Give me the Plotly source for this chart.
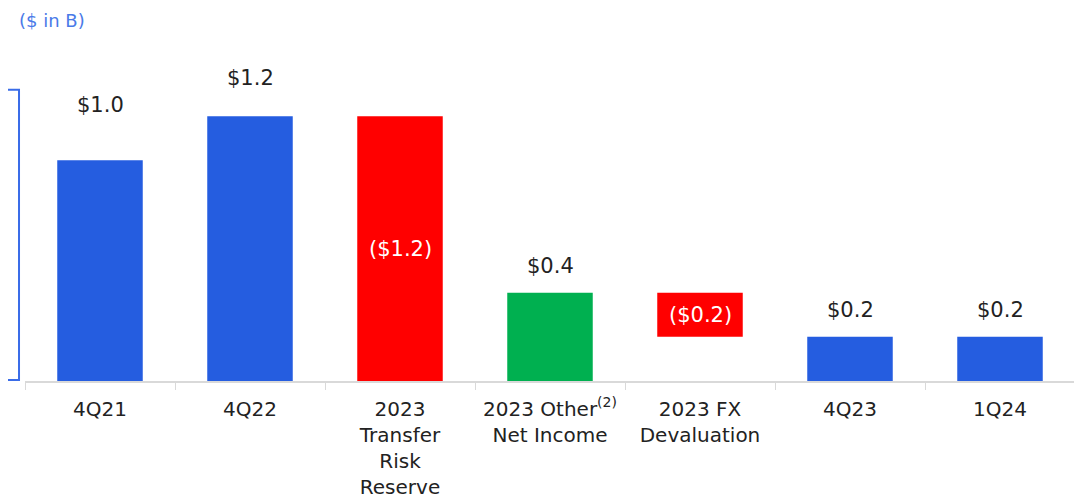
import plotly.graph_objects as go

categories = ["4Q21", "4Q22", "2023<br>Transfer<br>Risk<br>Reserve",
              "2023 Other<sup>(2)</sup><br>Net Income", "2023 FX<br>Devaluation",
              "4Q23", "1Q24"]
measures = ["absolute", "absolute", "relative", "relative", "relative", "total", "absolute"]
values = [1.0, 1.2, -1.2, 0.4, -0.2, 0, 0.2]
labels = ["$1.0", "$1.2", "($1.2)", "$0.4", "($0.2)", "$0.2", "$0.2"]
label_inside = [False, False, True, False, True, False, False]
label_gap = [55, 38, 0, 27, 0, 27, 27]  # pixel offset of outside labels above bar tops

BLUE = "#255DE0"
RED = "#FF0000"
GREEN = "#00B050"
FONT = "DejaVu Sans"

# bar extents from the waterfall logic
tops, mids = [], []
run = 0.0
for m, v in zip(measures, values):
    if m == "absolute":
        run = v
        lo, hi = 0.0, run
    elif m == "relative":
        prev = run
        run = run + v
        lo, hi = min(prev, run), max(prev, run)
    else:
        lo, hi = 0.0, run
    tops.append(hi)
    mids.append((lo + hi) / 2)

fig = go.Figure(go.Waterfall(
    x=categories, y=values, measure=measures,
    increasing=dict(marker=dict(color=GREEN)),
    decreasing=dict(marker=dict(color=RED)),
    totals=dict(marker=dict(color=BLUE)),
    connector=dict(visible=False),
    width=0.57, hoverinfo="skip",
))

annotations = []
for cat, lab, inside, top, mid, gap in zip(categories, labels, label_inside, tops, mids, label_gap):
    if inside:
        annotations.append(dict(x=cat, y=mid, xref="x", yref="y", text=lab, showarrow=False,
                                yanchor="middle",
                                font=dict(family=FONT, size=21, color="white")))
    else:
        annotations.append(dict(x=cat, y=top, xref="x", yref="y", text=lab, showarrow=False,
                                yanchor="middle", yshift=gap,
                                font=dict(family=FONT, size=21, color="#222222")))
annotations.append(dict(text="($ in B)", xref="paper", yref="paper", x=0, y=1.0,
                        xanchor="left", yanchor="middle", yshift=41, xshift=-8,
                        showarrow=False,
                        font=dict(family=FONT, size=18, color="#4A7AE8")))

fig.update_layout(
    width=1074, height=493,
    margin=dict(l=17, r=7, t=53, b=120, autoexpand=False),
    plot_bgcolor="white", paper_bgcolor="white",
    showlegend=False,
    font=dict(family=FONT, size=21, color="#222222"),
    xaxis=dict(showline=True, linecolor="#d9d9d9", linewidth=1.5,
               ticks="outside", tickson="boundaries", ticklen=7, tickcolor="#d9d9d9",
               ticklabelstandoff=9, automargin=False,
               tickfont=dict(family=FONT, size=20, color="#222222"),
               showgrid=False, zeroline=False),
    yaxis=dict(visible=False, range=[0, 1.45], showgrid=False, zeroline=False,
               automargin=False),
    shapes=[dict(type="rect", xref="paper", yref="y", x0=-0.05, x1=-0.0057,
                 y0=0.005, y1=1.32, line=dict(color="#3A6CE8", width=2))],
    annotations=annotations,
)

fig.write_html("out.html")
